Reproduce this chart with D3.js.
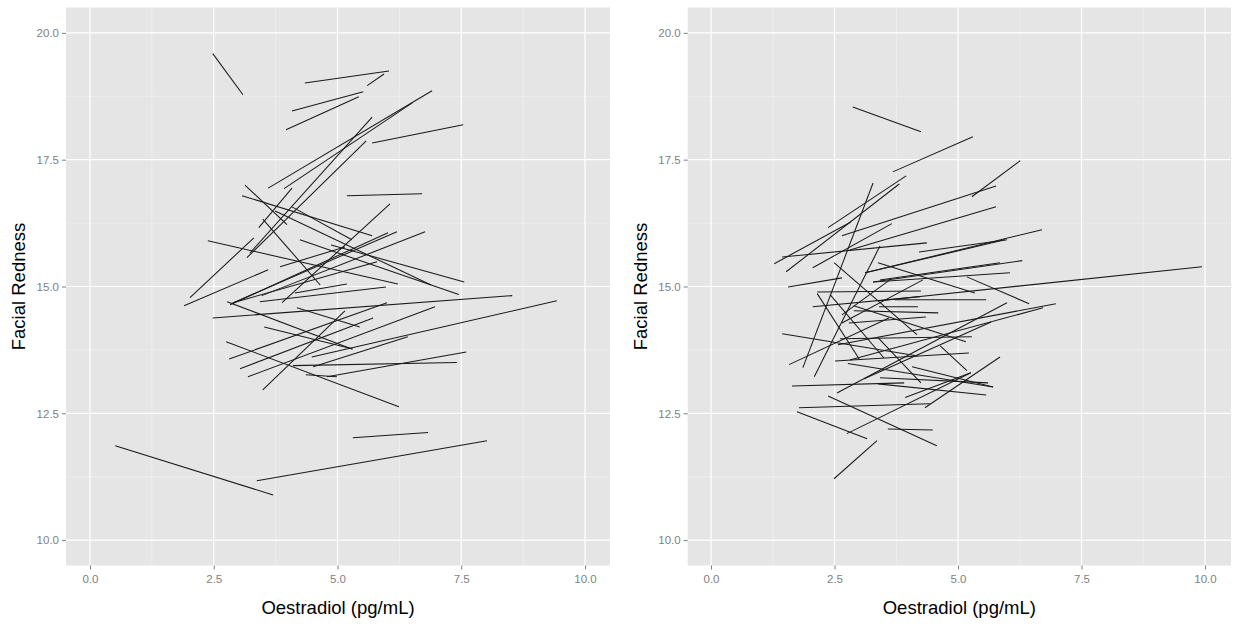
<!DOCTYPE html>
<html><head><meta charset="utf-8">
<script src="https://cdn.jsdelivr.net/npm/d3@7"></script>
<style>
body{margin:0;background:#fff}
svg{display:block}
text{font-family:"Liberation Sans",Arial,Helvetica,sans-serif}
</style>
</head><body>
<svg id="c" width="1237" height="626"></svg>
<script>
// Tick values
const xTicks = [0, 2.5, 5, 7.5, 10];
const yTicks = [10, 12.5, 15, 17.5, 20];
const xMinor = [1.25, 3.75, 6.25, 8.75];
const yMinor = [11.25, 13.75, 16.25, 18.75];
const xTitle = "Oestradiol (pg/mL)";
const yTitle = "Facial Redness";

// Segments: [oestradiol start, redness start, oestradiol end, redness end]
const leftSegs = [
  [2.48,19.59,3.09,18.78],[4.34,19.01,6.04,19.25],[5.60,18.96,5.94,19.19],
  [4.08,18.46,5.52,18.84],[3.96,18.09,5.43,18.74],[5.70,17.83,7.54,18.19],
  [3.60,16.94,6.91,18.86],[3.92,16.93,6.51,18.62],[3.23,15.66,5.70,18.34],
  [3.17,15.57,5.58,17.87],[3.41,16.16,4.08,16.94],[3.13,17.00,3.98,16.22],
  [3.07,16.79,5.70,16.00],[4.08,16.57,5.29,15.92],[3.74,16.49,6.89,15.03],
  [5.19,16.79,6.71,16.83],[6.06,16.63,3.88,14.68],[2.85,14.66,6.20,16.08],
  [2.89,14.68,5.80,15.49],[2.83,14.64,6.02,16.06],[3.47,14.82,6.77,16.08],
  [3.43,14.70,5.98,14.99],[2.48,14.38,8.53,14.82],[4.48,13.61,9.43,14.72],
  [2.75,13.91,6.24,12.63],[3.52,14.20,5.31,13.77],[4.18,14.58,5.45,14.20],
  [2.81,13.57,6.00,14.68],[3.03,13.38,5.72,14.38],[3.19,13.22,6.97,14.60],
  [3.49,12.96,5.15,14.52],[4.10,13.44,7.41,13.50],[4.79,13.22,7.60,13.71],
  [4.51,13.42,6.42,14.01],[4.36,13.26,4.99,13.22],[5.31,12.02,6.83,12.12],
  [3.37,11.17,8.02,11.96],[0.51,11.86,3.70,10.89],[3.49,16.33,4.65,15.03],
  [3.84,15.39,5.15,15.78],[4.14,14.87,5.19,15.05],[1.90,14.62,3.60,15.33],
  [2.02,14.78,3.31,15.96],[2.38,15.90,6.22,15.05],[2.77,14.70,5.29,13.77],
  [4.87,15.82,7.56,15.09],[4.24,15.92,7.45,14.84]
];
const rightSegs = [
  [2.87,18.54,4.25,18.05],[3.68,17.26,5.30,17.95],[5.28,16.77,6.26,17.48],
  [2.65,16.00,5.77,16.98],[2.37,16.16,3.95,17.18],[1.52,15.29,3.81,17.02],
  [3.28,17.04,1.86,13.40],[2.06,15.37,3.66,16.24],[2.81,15.72,5.77,16.57],
  [1.28,15.45,2.83,16.27],[1.44,15.58,4.37,15.86],[1.56,14.99,2.65,15.17],
  [2.15,14.89,4.25,14.91],[2.15,14.86,3.00,13.57],[2.06,14.60,4.23,14.80],
  [2.49,15.47,4.17,14.05],[2.09,13.22,3.42,15.80],[1.44,14.07,4.19,13.63],
  [1.58,13.46,3.60,14.38],[1.64,13.04,3.91,13.10],[1.78,12.61,4.43,12.69],
  [1.74,12.53,3.16,12.00],[2.37,12.84,4.57,11.86],[3.58,12.19,4.49,12.17],
  [2.75,12.10,5.26,13.30],[2.49,11.21,3.36,11.96],[2.41,14.84,3.50,13.59],
  [3.38,13.99,4.25,13.10],[4.64,13.83,5.18,13.34],[2.77,13.48,5.71,13.02],
  [4.07,13.42,5.71,13.02],[3.42,13.20,5.61,13.10],[3.38,13.08,5.57,12.86],
  [3.93,12.81,5.26,13.30],[4.33,12.61,5.85,13.61],[2.51,13.53,5.22,13.69],
  [2.61,13.97,5.28,14.01],[2.89,14.62,5.16,13.91],[2.79,14.28,4.35,14.40],
  [2.89,14.52,4.60,14.48],[3.40,14.60,4.19,14.60],[3.72,14.74,5.57,14.74],
  [3.28,15.09,6.05,15.27],[3.42,15.13,5.85,15.47],[3.28,15.09,6.30,15.51],
  [3.38,15.47,5.34,14.87],[5.18,15.19,6.44,14.66],[3.12,15.27,5.95,15.92],
  [4.21,15.68,5.99,15.92],[2.55,12.90,5.99,14.68],[2.57,13.85,6.98,14.66],
  [2.81,13.55,6.72,14.58],[3.10,13.18,5.67,14.30],[3.42,14.72,9.94,15.39],
  [3.12,15.27,6.70,16.12],[2.65,14.44,3.62,15.13],[2.65,14.28,4.29,15.13]
];

const svg = d3.select("#c");
const panelTop = 7.5, panelBottom = 565.5;
const panels = [
  {segs: leftSegs, x0: 66, x1: 610, xd: [-0.485, 10.505], ytx: 25},
  {segs: rightSegs, x0: 687.7, x1: 1231, xd: [-0.472, 10.526], ytx: 647}
];
const fmt = d3.format(".1f");
const tickCol = "#7f7f7f";

panels.forEach(p => {
  const x = d3.scaleLinear().domain(p.xd).range([p.x0, p.x1]);
  const y = d3.scaleLinear().domain([9.5, 20.5]).range([panelBottom, panelTop]);
  const g = svg.append("g");
  g.append("rect").attr("x", p.x0).attr("y", panelTop)
    .attr("width", p.x1 - p.x0).attr("height", panelBottom - panelTop).attr("fill", "#e5e5e5");
  g.selectAll(".mx").data(xMinor).join("line")
    .attr("x1", d => x(d)).attr("x2", d => x(d)).attr("y1", panelTop).attr("y2", panelBottom)
    .attr("stroke", "#f2f2f2").attr("stroke-width", 0.6);
  g.selectAll(".my").data(yMinor).join("line")
    .attr("y1", d => y(d)).attr("y2", d => y(d)).attr("x1", p.x0).attr("x2", p.x1)
    .attr("stroke", "#f2f2f2").attr("stroke-width", 0.6);
  g.selectAll(".gx").data(xTicks).join("line")
    .attr("x1", d => x(d)).attr("x2", d => x(d)).attr("y1", panelTop).attr("y2", panelBottom)
    .attr("stroke", "#ffffff").attr("stroke-width", 1.2);
  g.selectAll(".gy").data(yTicks).join("line")
    .attr("y1", d => y(d)).attr("y2", d => y(d)).attr("x1", p.x0).attr("x2", p.x1)
    .attr("stroke", "#ffffff").attr("stroke-width", 1.2);
  g.selectAll(".seg").data(p.segs).join("line")
    .attr("x1", d => x(d[0])).attr("y1", d => y(d[1]))
    .attr("x2", d => x(d[2])).attr("y2", d => y(d[3]))
    .attr("stroke", "#1a1a1a").attr("stroke-width", 1.05);
  const xa = g.append("g").attr("transform", `translate(0,${panelBottom})`)
    .call(d3.axisBottom(x).tickValues(xTicks).tickFormat(fmt).tickSize(4).tickPadding(5));
  xa.select(".domain").remove();
  xa.selectAll("line").attr("stroke", tickCol);
  xa.selectAll("text").attr("fill", tickCol).style("font-size", "11.5px")
    .style("font-family", '"Liberation Sans",Arial,sans-serif');
  const ya = g.append("g").attr("transform", `translate(${p.x0},0)`)
    .call(d3.axisLeft(y).tickValues(yTicks).tickFormat(fmt).tickSize(4).tickPadding(3));
  ya.select(".domain").remove();
  ya.selectAll("line").attr("stroke", tickCol);
  ya.selectAll("text").attr("fill", tickCol).style("font-size", "11.5px")
    .style("font-family", '"Liberation Sans",Arial,sans-serif');
  g.append("text").attr("x", (p.x0 + p.x1) / 2).attr("y", 614)
    .attr("text-anchor", "middle").style("font-size", "18.5px").attr("fill", "#000")
    .text(xTitle);
  g.append("text").attr("transform", `translate(${p.ytx},${(panelTop + panelBottom) / 2}) rotate(-90)`)
    .attr("text-anchor", "middle").style("font-size", "18.5px").attr("fill", "#000")
    .text(yTitle);
});
</script>
</body></html>
